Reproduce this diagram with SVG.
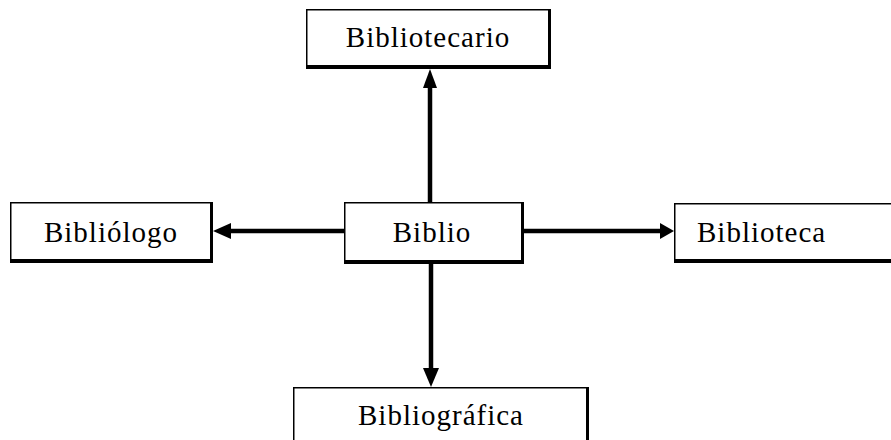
<svg xmlns="http://www.w3.org/2000/svg" width="891" height="440" viewBox="0 0 891 440">
<style>
.frame{fill:#000}
.inner{fill:#fff}
.lbl{font-family:"Liberation Serif","Times New Roman",serif;font-size:29px;letter-spacing:1px;fill:#000}
.mid{text-anchor:middle}
.conn line{stroke:#000;stroke-width:4.5}
.conn polygon{fill:#000}
</style>
<rect width="891" height="440" fill="#fff"/>
<g id="connectors" class="conn">
  <line x1="430" y1="202" x2="430" y2="86"/>
  <polygon points="423,88 437,88 430,69"/>
  <line x1="431" y1="264" x2="431" y2="370"/>
  <polygon points="423,368 439,368 431,387"/>
  <line x1="344" y1="231" x2="229" y2="231"/>
  <polygon points="231,223 231,239 213,231"/>
  <line x1="524" y1="231" x2="662" y2="231"/>
  <polygon points="660,223 660,239 674,231"/>
</g>
<g id="node-bibliotecario">
  <rect class="frame" x="306" y="9" width="245" height="60"/>
  <rect class="inner" x="307.5" y="10.5" width="240.5" height="54.5"/>
  <text class="lbl mid" x="428" y="47">Bibliotecario</text>
</g>
<g id="node-bibliologo">
  <rect class="frame" x="10" y="202" width="203" height="61"/>
  <rect class="inner" x="11.5" y="203.5" width="198.5" height="55.5"/>
  <text class="lbl mid" x="111" y="242">Bibliólogo</text>
</g>
<g id="node-biblio">
  <rect class="frame" x="344" y="202" width="180" height="62"/>
  <rect class="inner" x="345.5" y="203.5" width="175.5" height="56.5"/>
  <text class="lbl mid" x="432" y="242">Biblio</text>
</g>
<g id="node-biblioteca">
  <rect class="frame" x="674" y="203" width="226" height="60"/>
  <rect class="inner" x="675.5" y="204.5" width="221.5" height="54.5"/>
  <text class="lbl" x="697" y="242">Biblioteca</text>
</g>
<g id="node-bibliografica">
  <rect class="frame" x="293" y="387" width="296" height="63"/>
  <rect class="inner" x="294.5" y="388.5" width="291.5" height="57.5"/>
  <text class="lbl mid" x="441" y="425">Bibliográfica</text>
</g>
</svg>
